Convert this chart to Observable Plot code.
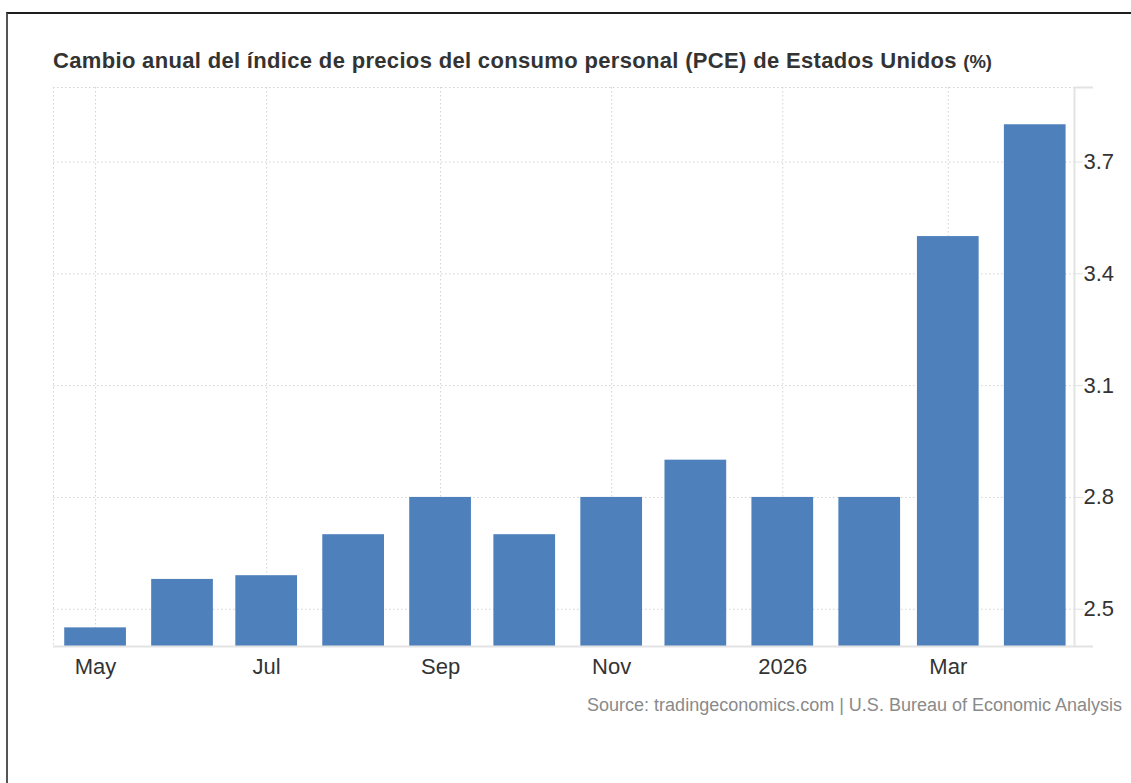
<!DOCTYPE html>
<html><head><meta charset="utf-8">
<script src="https://cdn.jsdelivr.net/npm/d3@7"></script>
<script src="https://cdn.jsdelivr.net/npm/@observablehq/plot@0.6"></script>
<style>
body{margin:0;background:#fff;font-family:"Liberation Sans",Arial,sans-serif;}
#wrap{position:relative;width:1131px;height:783px;overflow:hidden;background:#fff;}
#frame{position:absolute;left:6px;top:12px;width:1200px;height:900px;border-top:2px solid #1e1e1e;border-left:2px solid #555;}
#title{position:absolute;left:53px;top:49.5px;font-weight:bold;font-size:22px;letter-spacing:0.33px;line-height:1;color:#333;white-space:nowrap;}
#title span{font-size:18.5px;letter-spacing:0;}
#source{position:absolute;right:9px;top:696px;font-size:18px;line-height:1;color:#8a8a8a;white-space:nowrap;}
#plot{position:absolute;left:0;top:0;}
</style></head><body>
<div id="wrap"><div id="frame"></div><div id="title"></div><div id="plot"></div><div id="source"></div></div>
<script>
// ---- data ----
const months = ["2025-05-01","2025-06-01","2025-07-01","2025-08-01","2025-09-01","2025-10-01",
                "2025-11-01","2025-12-01","2026-01-01","2026-02-01","2026-03-01","2026-04-01"];
const values = [2.45, 2.58, 2.59, 2.7, 2.8, 2.7, 2.8, 2.9, 2.8, 2.8, 3.5, 3.8];
const xTickDates = ["2025-05-01","2025-07-01","2025-09-01","2025-11-01","2026-01-01","2026-03-01"];
const xTickLabels = ["May","Jul","Sep","Nov","2026","Mar"];
const yTicks = [2.5, 2.8, 3.1, 3.4, 3.7];
const xDomain = ["2025-04-16","2026-04-15"];
const yDomain = [2.4, 3.9];
const titleText = "Cambio anual del índice de precios del consumo personal (PCE) de Estados Unidos";
const unitText = "(%)";
const sourceText = "Source: tradingeconomics.com | U.S. Bureau of Economic Analysis";

// ---- build ----
const data = months.map((m, i) => ({date: new Date(m), value: values[i]}));
const tickDates = xTickDates.map(d => new Date(d));
const labelMap = new Map(tickDates.map((d, i) => [+d, xTickLabels[i]]));
const xd = xDomain.map(d => new Date(d));
const halfBarDays = 11;
const grid = "#d2d2d2";
const axisCol = "#e3e3e3";

document.getElementById("title").innerHTML = titleText + " <span>" + unitText + "</span>";
document.getElementById("source").textContent = sourceText;

const chart = Plot.plot({
  width: 1131, height: 783,
  marginTop: 87, marginBottom: 137, marginLeft: 53, marginRight: 57,
  style: {fontFamily: '"Liberation Sans", Arial, sans-serif', fontSize: "22px", color: "#333", background: "transparent", overflow: "visible"},
  x: {type: "utc", domain: xd},
  y: {domain: yDomain},
  marks: [
    Plot.ruleY([...yTicks, yDomain[1]], {stroke: grid, strokeDasharray: "1.5,2.5"}),
    Plot.ruleX([xd[0], ...tickDates], {stroke: grid, strokeDasharray: "1.5,2.5"}),
    Plot.rect(data, {
      x1: d => d3.utcDay.offset(d.date, -halfBarDays),
      x2: d => d3.utcDay.offset(d.date, halfBarDays),
      y1: yDomain[0], y2: "value", fill: "#4e80bc"
    }),
    Plot.ruleX([xd[1]], {stroke: axisCol, strokeWidth: 2}),
    Plot.ruleY([yDomain[0]], {stroke: axisCol, strokeWidth: 2, insetRight: -19}),
    Plot.ruleY([yDomain[1]], {x1: xd[1], x2: xd[1], stroke: axisCol, strokeWidth: 2, insetRight: -19}),
    Plot.axisX({ticks: tickDates, tickFormat: d => labelMap.get(+d), tickSize: 0, tickPadding: 12, fontSize: 22, fill: "#333", label: null}),
    Plot.axisY({anchor: "right", ticks: yTicks, tickFormat: d3.format(".1f"), tickSize: 8, tickPadding: 1, stroke: axisCol, fill: "#333", fontSize: 22, label: null})
  ]
});
document.getElementById("plot").appendChild(chart);
</script>
</body></html>
